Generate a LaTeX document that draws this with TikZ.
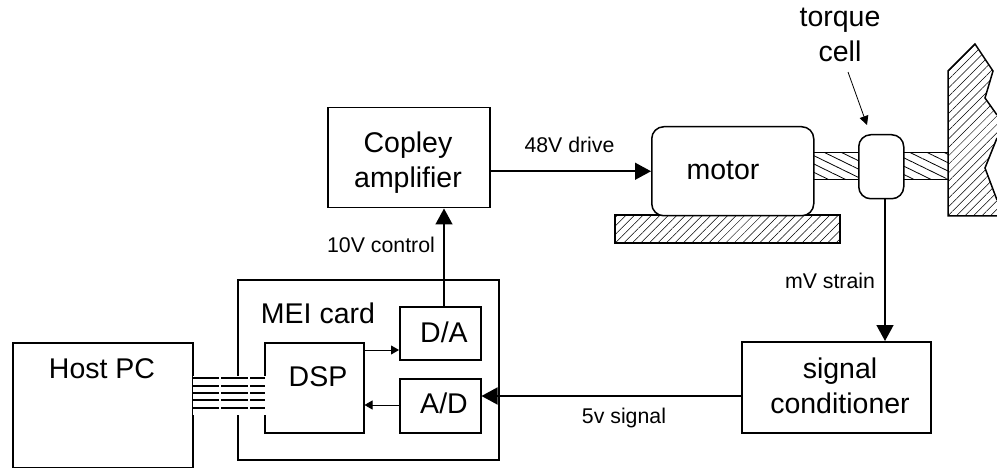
\documentclass[tikz,border=0pt]{standalone}
\usepackage{fontspec}
\setmainfont{Liberation Sans}
\usetikzlibrary{patterns.meta,arrows.meta}
\tikzset{
  x=1pt,y=-1pt,
  blockbox/.style={draw=black,line width=1.5pt,fill=white,minimum width=0pt,minimum height=0pt,inner sep=0pt},
  bigtext/.style={font=\fontsize{28.5}{35}\selectfont,align=center,inner sep=0pt,anchor=base},
  smalltext/.style={font=\fontsize{21.3}{26}\selectfont,inner sep=0pt,anchor=base},
  wire/.style={line width=1.5pt,-{Triangle[length=16pt,width=17pt]}},
  thinwire/.style={line width=0.8pt,-{Triangle[length=8pt,width=9pt]}},
  leader/.style={line width=0.8pt,-{Triangle[length=9pt,width=9pt]}},
  hatchA/.style={pattern={Lines[angle=45,distance=6pt,line width=0.5pt]}},
  hatchB/.style={pattern={Lines[angle=-26,distance=7.5pt,line width=0.8pt]}},
}
\newcommand{\boxat}[6][]{\node[blockbox,#1,minimum width=#4pt-#3pt,minimum height=#6pt-#5pt,anchor=north west] (#2) at (#3,#5) {};}
\begin{document}
\begin{tikzpicture}
\useasboundingbox (0,0) rectangle (997,468);
% hatched mechanics
\fill[hatchA] (948,71) -- (975,44) -- (993,71) -- (985,98) -- (997,115) -- (997,138) -- (985,168) -- (997,200) -- (997,216) -- (948,216) -- cycle;
\draw[line width=1.5pt,line join=miter] (997,216) -- (948,216) -- (948,71) -- (975,44) -- (993,71) -- (985,98) -- (997,115);
\draw[line width=1.5pt] (997,138) -- (985,168) -- (997,200);
\draw[line width=1pt,hatchB] (813,153) rectangle (858,180);
\draw[line width=1pt,hatchB] (903,153) rectangle (948,180);
\draw[line width=1.5pt,hatchA] (615,215) rectangle (840,243);
\node[blockbox,rounded corners=12pt,minimum width=162pt,minimum height=89pt,anchor=north west] (motor) at (651,126) {};
\node[blockbox,rounded corners=12pt,minimum width=45pt,minimum height=64pt,anchor=north west] (cell) at (858,134) {};
\boxat{amp}{327}{489}{107}{207}
\boxat{mei}{237}{498}{279}{459}
\boxat{da}{399}{480}{306}{359}
\boxat{ad}{399}{480}{378}{432}
\boxat{dsp}{264}{363}{342}{432}
\boxat{host}{12}{192}{342}{467}
\boxat{cond}{741}{930}{341}{432}
% bus
\fill[white] (193,376) rectangle (266,415);
\foreach \yy in {378,386,393,400,408} \draw[line width=1.2pt] (192,\yy) -- (265,\yy);
\foreach \xx in {220,249} \draw[white,line width=1.2pt] (\xx,376) -- (\xx,410);
% labels
\node[bigtext] (ampt) at (408,188) {Copley\\amplifier};
\node[bigtext] (motort) at (723,180) {motor};
\node[bigtext] (torquet) at (840,62) {torque\\cell};
\node[bigtext] (meit) at (318,323) {MEI card};
\node[bigtext] (hostt) at (102,378) {Host PC};
\node[bigtext] (dspt) at (318,386) {DSP};
\node[bigtext] (dat) at (444,342) {D/A};
\node[bigtext] (adt) at (444,413) {A/D};
\node[bigtext] (condt) at (840,413) {signal\\conditioner};
\node[smalltext] (l48) at (569.5,153) {48V drive};
\node[smalltext] (l10) at (381,252) {10V control};
\node[smalltext] (lmv) at (830,288) {mV strain};
\node[smalltext] (l5v) at (624,423) {5v signal};
% connectors
\draw[wire] (amp.east |- motor.west) -- (motor.west);
\draw[wire] (da.north -| 444,0) coordinate (a1) -- (a1 |- amp.south);
\draw[wire] (cell.south -| 885,0) coordinate (a2) -- (a2 |- cond.north);
\draw[wire] (cond.west |- 0,396) coordinate (a3) -- (ad.east |- a3);
\draw[thinwire] (dsp.east |- 0,350) coordinate (a4) -- (da.west |- a4);
\draw[thinwire] (ad.west |- 0,405) coordinate (a5) -- (dsp.east |- a5);
\coordinate (a6) at (848,72);
\draw[leader] (a6) -- (867,125);
\end{tikzpicture}
\end{document}
